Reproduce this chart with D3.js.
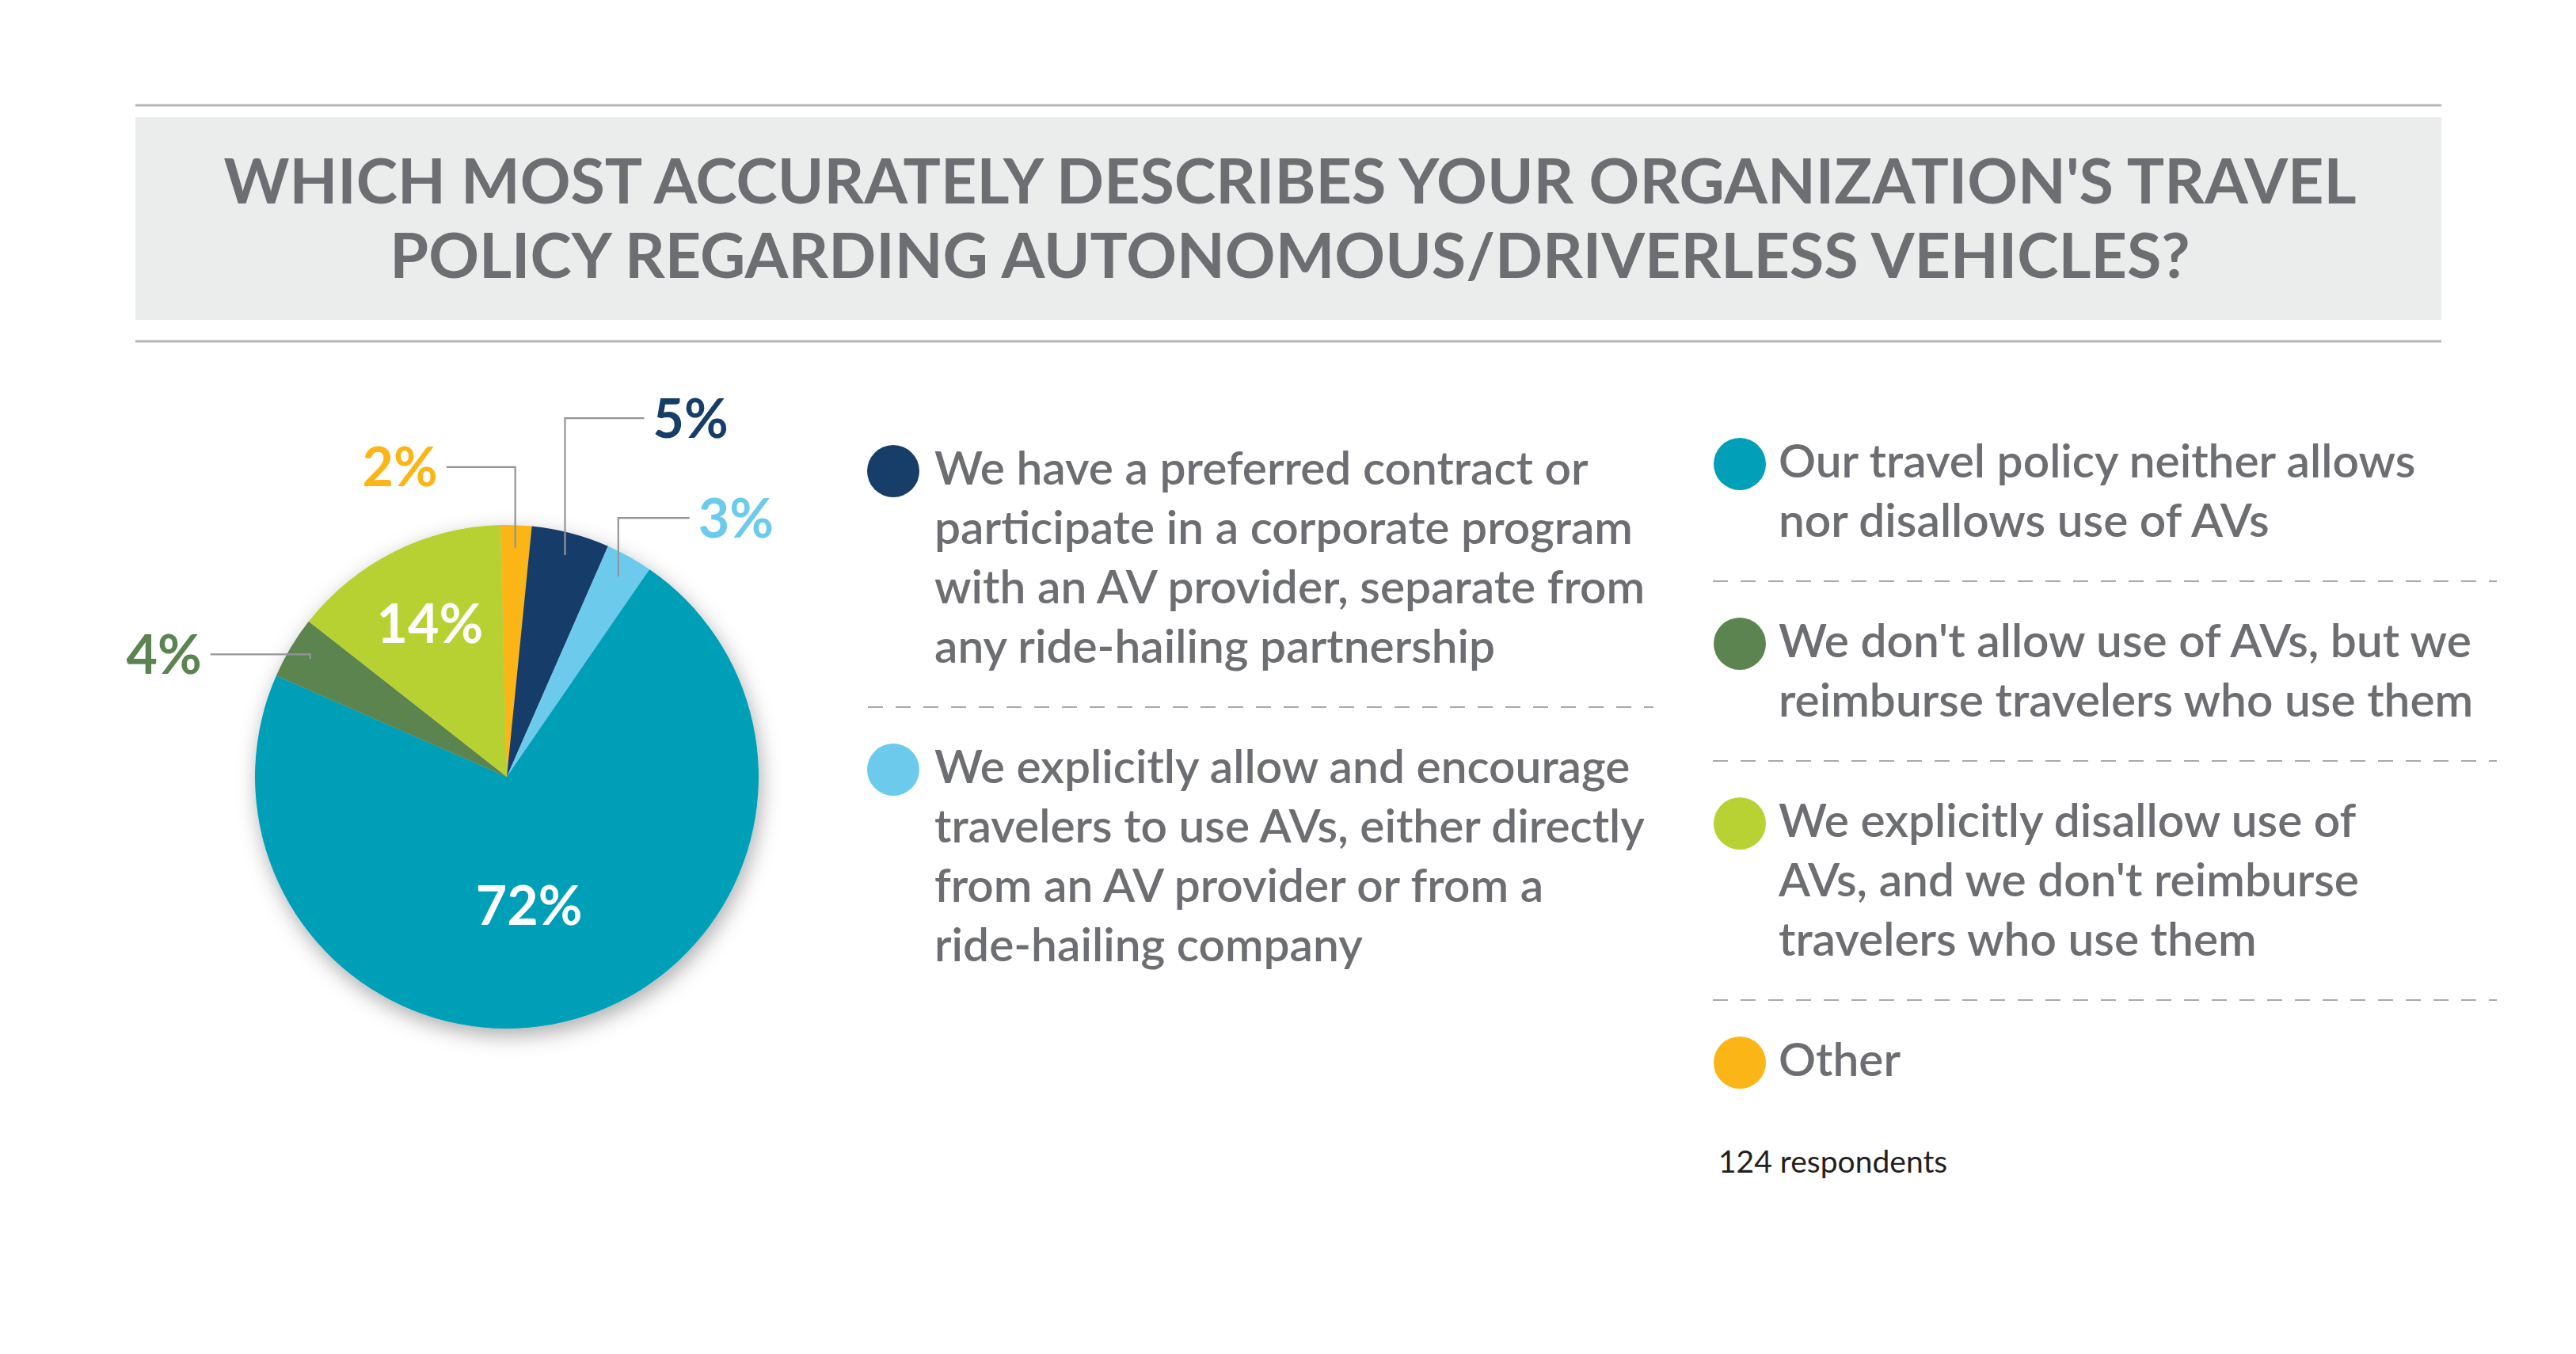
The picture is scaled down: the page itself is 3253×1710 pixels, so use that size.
<!DOCTYPE html>
<html lang="en">
<head>
	<meta charset="utf-8">
	<title>Travel policy regarding autonomous vehicles</title>
	<script src="https://d3js.org/d3.v7.min.js"></script>
	<style>
		body { margin: 0; background: #fff; }
		svg text { font-family: Lato, "Open Sans", sans-serif; }
	</style>
</head>
<body>

<script type="text/javascript">

var W = 3253;
var H = 1710;

// survey answers, in the order they go round the pie (clockwise from the top)
var categories = [
	"Other",
	"We have a preferred contract or participate in a corporate program with an AV provider, separate from any ride-hailing partnership",
	"We explicitly allow and encourage travelers to use AVs, either directly from an AV provider or from a ride-hailing company",
	"Our travel policy neither allows nor disallows use of AVs",
	"We don't allow use of AVs, but we reimburse travelers who use them",
	"We explicitly disallow use of AVs, and we don't reimburse travelers who use them"
];
var values = [2, 5, 3, 72, 4, 14];
var sliceColors = ["#fbb516", "#163e69", "#6ccbed", "#029fb8", "#5b8450", "#b8d133"];
var labelColors = ["#fbb516", "#163e69", "#6ccbed", "#ffffff", "#5b8450", "#ffffff"];

// legend text, broken the way the original breaks it
var legendLines = [
	["Other"],
	["We have a preferred contract or", "participate in a corporate program", "with an AV provider, separate from", "any ride-hailing partnership"],
	["We explicitly allow and encourage", "travelers to use AVs, either directly", "from an AV provider or from a", "ride-hailing company"],
	["Our travel policy neither allows", "nor disallows use of AVs"],
	["We don't allow use of AVs, but we", "reimburse travelers who use them"],
	["We explicitly disallow use of", "AVs, and we don't reimburse", "travelers who use them"]
];
var leftColumn = [1, 2];
var rightColumn = [3, 4, 5, 0];

var titleLines = [
	"WHICH MOST ACCURATELY DESCRIBES YOUR ORGANIZATION'S TRAVEL",
	"POLICY REGARDING AUTONOMOUS/DRIVERLESS VEHICLES?"
];
var note = "124 respondents";

// where each percentage goes (inside the slice, or out on a leader line)
var labelPlacement = [
	{ out: true, rise: 102, dir: -1, len: 87 },
	{ out: true, rise: 173, dir: 1, len: 100 },
	{ out: true, rise: 74, dir: 1, len: 90 },
	{ out: false, k: 0.53, dx: -18 },
	{ out: true, rise: 6, dir: -1, len: 126 },
	{ out: false, k: 0.68, dx: 0 }
];

var textGray = "#6d6e71";

var svg = d3.select("body").append("svg")
	.attr("width", W)
	.attr("height", H);

// soft shadow under the pie
var defs = svg.append("defs");
defs.append("filter")
	.attr("id", "pieShadow")
	.attr("x", "-20%").attr("y", "-20%")
	.attr("width", "140%").attr("height", "140%")
	.append("feDropShadow")
	.attr("dx", 3)
	.attr("dy", 9)
	.attr("stdDeviation", 13)
	.attr("flood-color", "#000")
	.attr("flood-opacity", 0.32);

//---- title band
var band = svg.append("g");

band.append("line")
	.attr("x1", 171).attr("x2", 3083)
	.attr("y1", 133).attr("y2", 133)
	.attr("stroke", "#b5b6b8")
	.attr("stroke-width", 3);

band.append("rect")
	.attr("x", 171).attr("y", 148)
	.attr("width", 3083 - 171)
	.attr("height", 404 - 148)
	.attr("fill", "#ebecec");

band.append("line")
	.attr("x1", 171).attr("x2", 3083)
	.attr("y1", 431).attr("y2", 431)
	.attr("stroke", "#b5b6b8")
	.attr("stroke-width", 3);

band.selectAll("text.title")
	.data(titleLines)
	.enter()
	.append("text")
	.attr("class", "title")
	.attr("x", 1629)
	.attr("y", function(d, i) { return 257 + i * 94; })
	.attr("text-anchor", "middle")
	.attr("fill", textGray)
	.style("font-size", "79px")
	.style("font-weight", 700)
	.text(function(d) { return d; });

//---- pie
var cx = 640, cy = 981, r = 318;
var startA = -0.026;

var pie = d3.pie()
	.sort(null)
	.startAngle(startA)
	.endAngle(2 * Math.PI + startA);

var arc = d3.arc().innerRadius(0).outerRadius(r);
var arcs = pie(values);

var pieG = svg.append("g")
	.attr("transform", "translate(" + cx + "," + cy + ")");

pieG.append("g")
	.attr("filter", "url(#pieShadow)")
	.selectAll("path")
	.data(arcs)
	.enter()
	.append("path")
	.attr("d", arc)
	.attr("fill", function(d, i) { return sliceColors[i]; });

// leader lines start a bit inside the rim
var anchorArc = d3.arc().innerRadius(r * 0.91).outerRadius(r * 0.91);

arcs.forEach(function(d, i) {
	var p = labelPlacement[i];
	var txt = values[i] + "%";

	if (p.out) {
		var a = anchorArc.centroid(d);
		var topY = a[1] - p.rise;
		var endX = a[0] + p.dir * p.len;

		pieG.append("path")
			.attr("d", "M" + a[0] + "," + a[1] + "V" + topY + "H" + endX)
			.attr("fill", "none")
			.attr("stroke", "#939598")
			.attr("stroke-width", 2.2);

		pieG.append("text")
			.attr("x", endX + p.dir * 11)
			.attr("y", topY)
			.attr("dy", "0.36em")
			.attr("text-anchor", p.dir < 0 ? "end" : "start")
			.attr("fill", labelColors[i])
			.style("font-size", "68px")
			.style("font-weight", 700)
			.text(txt);
	} else {
		var c = d3.arc().innerRadius(r * p.k).outerRadius(r * p.k).centroid(d);
		pieG.append("text")
			.attr("x", c[0] + p.dx)
			.attr("y", c[1])
			.attr("dy", "0.36em")
			.attr("text-anchor", "middle")
			.attr("fill", labelColors[i])
			.style("font-size", "68px")
			.style("font-weight", 700)
			.text(txt);
	}
});

//---- legend, two columns
var lineH = 75;

function drawColumn(items, dotX, textX, firstBase, ruleX1, ruleX2) {
	var y = firstBase;
	items.forEach(function(idx, n) {
		var g = svg.append("g").attr("class", "legend-item");

		g.append("circle")
			.attr("cx", dotX)
			.attr("cy", y - 17)
			.attr("r", 33)
			.attr("fill", sliceColors[idx]);

		g.selectAll("text")
			.data(legendLines[idx])
			.enter()
			.append("text")
			.attr("x", textX)
			.attr("y", function(d, j) { return y + j * lineH; })
			.attr("fill", textGray)
			.style("font-size", "58.6px")
			.style("font-weight", 600)
			.text(function(d) { return d; });

		var lastBase = y + (legendLines[idx].length - 1) * lineH;

		if (n < items.length - 1) {
			var ruleY = lastBase + 56;
			svg.append("line")
				.attr("x1", ruleX1).attr("x2", ruleX2)
				.attr("y1", ruleY).attr("y2", ruleY)
				.attr("stroke", "#a7a9ac")
				.attr("stroke-width", 2)
				.attr("stroke-dasharray", "19,16");
			y = ruleY + 96;
		}
	});
}

drawColumn(leftColumn, 1128, 1180, 612, 1096, 2088);
drawColumn(rightColumn, 2197, 2246, 603, 2163, 3153);

svg.append("text")
	.attr("x", 2170)
	.attr("y", 1481)
	.attr("fill", "#231f20")
	.style("font-size", "39px")
	.text(note);

</script>
</body>
</html>
